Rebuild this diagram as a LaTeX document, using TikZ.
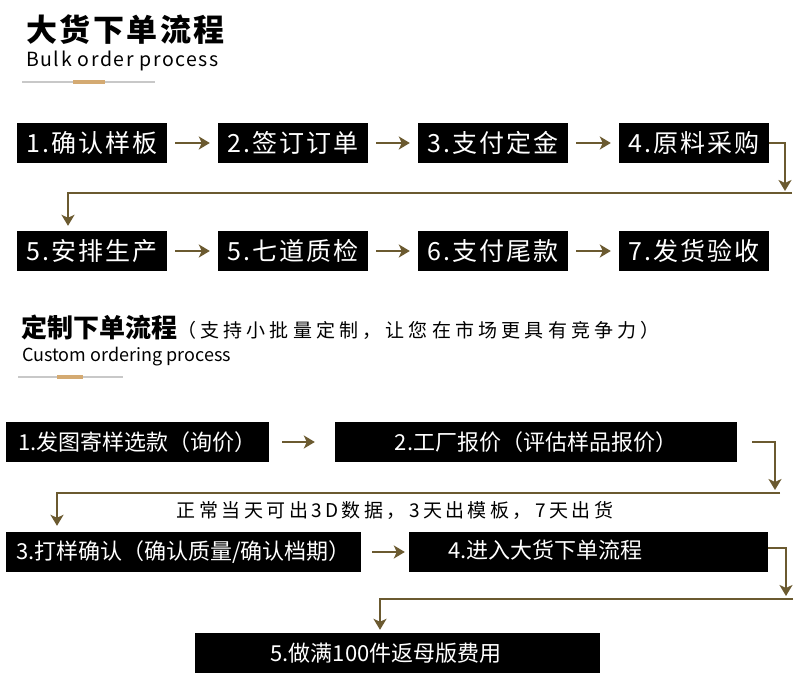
\documentclass[tikz,border=0pt]{standalone}
\usepackage{fontspec}
\setmainfont{Noto Sans CJK SC}
\newfontfamily\widefont[LetterSpace=8]{Noto Sans CJK SC}
\newfontfamily\notefont[LetterSpace=18]{Noto Sans CJK SC}
\newfontfamily\subfont[LetterSpace=22]{Noto Sans CJK SC}
\usetikzlibrary{arrows.meta}
\definecolor{flowbrown}{HTML}{6B5A30}
\definecolor{gold}{HTML}{D4AA72}
\definecolor{rulegray}{HTML}{C8C8C8}
\begin{document}
\begin{tikzpicture}[x=1pt,y=-1pt,
  box/.style={fill=black,text=white,inner sep=0pt,minimum height=40pt},
  bigbox/.style={box,minimum width=150pt,font=\widefont\fontsize{25}{25}\selectfont},
  smallbox/.style={box,font=\fontsize{22}{22}\selectfont},
  flow/.style={draw=flowbrown,line width=2.8pt,line join=miter,-{Stealth[length=11pt,width=13pt,inset=3pt]}}]
\useasboundingbox (0,0) rectangle (800,700);
% bulk order
\node[anchor=west,inner sep=0pt,font=\widefont\fontsize{31}{31}\selectfont\bfseries] (T1) at (26,30) {大货下单流程};
\node[anchor=west,inner sep=0pt,font=\widefont\fontsize{19.5}{19.5}\selectfont] (S1) at (26,61) {Bulk order process};
\draw[rulegray,line width=1.5pt] (22,82) -- (155,82);
\draw[gold,line width=4pt] (73,82) -- (105,82);
\node[bigbox] (A1) at (92,143) {1.确认样板};
\node[bigbox] (A2) at (293,143) {2.签订订单};
\node[bigbox] (A3) at (493,143) {3.支付定金};
\node[bigbox] (A4) at (694,143) {4.原料采购};
\node[bigbox] (A5) at (92,251) {5.安排生产};
\node[bigbox] (A6) at (293,251) {5.七道质检};
\node[bigbox] (A7) at (493,251) {6.支付尾款};
\node[bigbox] (A8) at (694,251) {7.发货验收};
\foreach \a/\b in {A1/A2,A2/A3,A3/A4,A5/A6,A6/A7,A7/A8}
  \draw[flow,shorten <=8pt,shorten >=8pt] (\a) -- (\b);
\coordinate (P0) at (785,191);
\coordinate (P1) at (792,193);
\coordinate (P2) at (68,193);
\draw[flow] (A4.east) -| (P0);
\draw[flow,shorten >=5pt] (P1) -- (P2) -- (P2 |- A5.north);
% custom order
\node[anchor=west,inner sep=0pt,font=\fontsize{26}{26}\selectfont\bfseries] (T2) at (21,327) {定制下单流程};
\node[anchor=west,inner sep=0pt,font=\subfont\fontsize{19}{19}\selectfont] (T3) at (177,330) {（支持小批量定制，让您在市场更具有竞争力）};
\node[anchor=west,inner sep=0pt,font=\fontsize{18}{18}\selectfont] (S2) at (22,357) {Custom ordering process};
\draw[rulegray,line width=1.5pt] (18,377) -- (123,377);
\draw[gold,line width=4pt] (57,377) -- (83,377);
\node[smallbox,minimum width=263pt] (C1) at (137.5,442) {1.发图寄样选款（询价）};
\node[smallbox,minimum width=402pt] (C2) at (536,442) {2.工厂报价（评估样品报价）};
\node[smallbox,minimum width=355pt] (C3) at (183.5,552) {3.打样确认（确认质量/确认档期）};
\node[box,minimum width=359pt] (C4) at (588.5,552) {};
\node[anchor=west,inner sep=0pt,text=white,font=\fontsize{22}{22}\selectfont] (L4) at (448,550) {4.进入大货下单流程};
\node[box,minimum width=405pt] (C5) at (397.5,653) {};
\node[inner sep=0pt,text=white,font=\fontsize{22}{22}\selectfont] (L5) at (386,653) {5.做满100件返母版费用};
\node[inner sep=0pt,font=\notefont\fontsize{19}{19}\selectfont] (N) at (395,510) {正常当天可出3D数据，3天出模板，7天出货};
\draw[flow,shorten <=13pt,shorten >=20pt] (C1) -- (C2);
\draw[flow,shorten <=11pt,shorten >=4pt] (C3) -- (C4);
\coordinate (Q0) at (775,490);
\coordinate (Q1) at (780,493);
\coordinate (Q2) at (57,493);
\draw[flow,shorten <=15pt] (C2.east) -| (Q0);
\draw[flow,shorten >=6pt] (Q1) -- (Q2) -- (Q2 |- C3.north);
\coordinate (R0) at (786,596);
\coordinate (R1) at (793,599);
\coordinate (R2) at (380,599);
\draw[flow] ([yshift=4pt]C4.east) -| (R0);
\draw[flow,shorten >=3pt] (R1) -- (R2) -- (R2 |- C5.north);
\end{tikzpicture}
\end{document}
